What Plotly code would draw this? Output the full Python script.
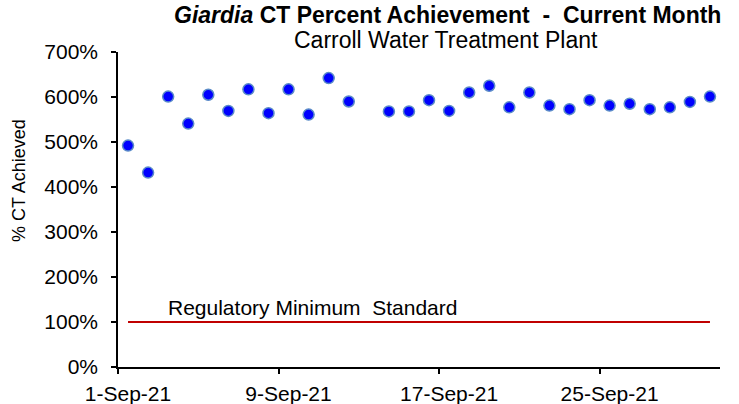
import plotly.graph_objects as go

# ---- data ----
dates = ["2021-09-%02d 12:00" % d for d in
         [1, 2, 3, 4, 5, 6, 7, 8, 9, 10, 11, 12,
          14, 15, 16, 17, 18, 19, 20, 21, 22, 23, 24, 25, 26, 27, 28, 29, 30]]
ct_percent = [492, 432, 601, 541, 605, 569, 617, 564, 617, 561, 642, 590,
              568, 568, 593, 569, 610, 625, 577, 610, 581, 573, 593, 581, 585, 573, 577, 589, 601]
standard_dates = ["2021-09-01 12:00", "2021-09-30 12:00"]
standard_values = [100, 100]
x_tick_vals = ["2021-09-01", "2021-09-09", "2021-09-17", "2021-09-25"]
x_tick_text = ["1-Sep-21", "9-Sep-21", "17-Sep-21", "25-Sep-21"]
y_tick_vals = [0, 100, 200, 300, 400, 500, 600, 700]
y_tick_text = ["0%", "100%", "200%", "300%", "400%", "500%", "600%", "700%"]

FONT = "Liberation Sans, Arial, sans-serif"

fig = go.Figure()
fig.add_trace(go.Scatter(
    x=standard_dates, y=standard_values, mode="lines",
    line=dict(color="#C00000", width=2), hoverinfo="skip", showlegend=False))
fig.add_trace(go.Scatter(
    x=dates, y=ct_percent, mode="markers",
    marker=dict(color="#0000FF", size=11, line=dict(color="#5B8CC8", width=1.5)),
    showlegend=False))

L, R, T, B = 118, 19, 52, 37
W, H = 739, 404
pw, ph = W - L - R, H - T - B

fig.update_layout(
    width=W, height=H,
    margin=dict(l=L, r=R, t=T, b=B),
    paper_bgcolor="white", plot_bgcolor="white",
    font=dict(family=FONT, color="black"),
    xaxis=dict(
        type="date", range=["2021-09-01", "2021-10-01"], automargin=False,
        tickvals=x_tick_vals, ticktext=x_tick_text,
        ticks="outside", ticklen=5, tickwidth=1.5, tickcolor="black",
        ticklabelshift=10, ticklabelstandoff=2,
        showline=True, linecolor="black", linewidth=1.5,
        showgrid=False, zeroline=False,
        tickfont=dict(size=21, family=FONT),
    ),
    yaxis=dict(
        range=[0, 700], tickvals=y_tick_vals, ticktext=y_tick_text, automargin=False,
        ticks="outside", ticklen=5, tickwidth=1.5, tickcolor="black",
        ticklabelstandoff=9,
        showline=True, linecolor="black", linewidth=1.5,
        showgrid=False, zeroline=False,
        tickfont=dict(size=21, family=FONT),
    ),
    annotations=[
        dict(text="<b><i>Giardia</i> CT Percent Achievement  -  Current Month</b>",
             xref="paper", yref="paper", x=(447 - L) / pw, y=1 + (T - 15) / ph,
             xanchor="center", yanchor="middle", showarrow=False,
             font=dict(size=23, family=FONT)),
        dict(text="Carroll Water Treatment Plant",
             xref="paper", yref="paper", x=(446 - L) / pw, y=1 + (T - 40) / ph,
             xanchor="center", yanchor="middle", showarrow=False,
             font=dict(size=23, family=FONT)),
        dict(text="% CT Achieved", textangle=-90,
             xref="paper", yref="paper", x=(19 - L) / pw, y=(H - B - 181) / ph,
             xanchor="center", yanchor="middle", showarrow=False,
             font=dict(size=18, family=FONT)),
        dict(text="Regulatory Minimum  Standard",
             xref="paper", yref="paper", x=(166 - L) / pw, y=(H - B - 307) / ph,
             xanchor="left", yanchor="middle", showarrow=False,
             font=dict(size=21, family=FONT)),
    ],
)

fig.write_html("out.html", config={"displayModeBar": False},
               post_script="document.body.style.margin='0';")
